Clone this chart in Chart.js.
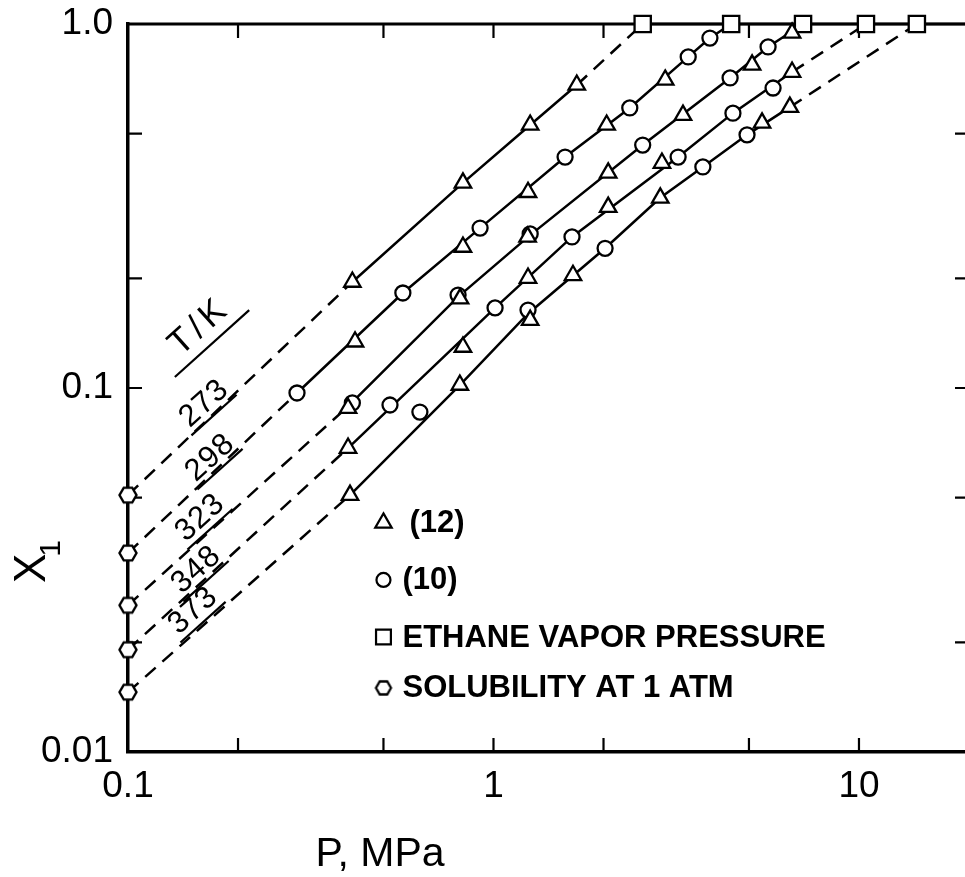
<!DOCTYPE html>
<html>
<head>
<meta charset="utf-8">
<script src="https://cdn.jsdelivr.net/npm/chart.js@4/dist/chart.umd.min.js"></script>
<style>
  html, body { margin: 0; padding: 0; background: #fff; overflow: hidden; width: 965px; height: 877px; }
  canvas { display: block; }
</style>
</head>
<body>
<canvas id="c" width="975" height="877" style="width:975px;height:877px"></canvas>
<script>
// ------------------------------------------------------------------
// DATA
// ------------------------------------------------------------------
const temperatures = [273, 298, 323, 348, 373];

// Solubility at 1 atm (hexagons), plotted at P = 0.1 MPa
const solubilityP = [0.1, 0.1, 0.1, 0.1, 0.1];
const solubilityX = [0.0508, 0.0352, 0.0253, 0.0191, 0.0146];

// Ethane vapor pressure (squares), x1 = 1
const vaporP = [2.56, 4.47, 7.03, 10.45, 14.4];
const vaporX = [1.0, 1.0, 1.0, 1.0, 1.0];

// Reference (12) - triangles
const tri273P = [0.411, 0.825, 1.26, 1.69];
const tri273X = [0.1955, 0.366, 0.528, 0.680];
const tri298P = [0.418, 0.825, 1.243, 2.04, 2.95];
const tri298X = [0.134, 0.244, 0.345, 0.528, 0.702];
const tri323P = [0.40, 0.81, 1.24, 2.06, 3.30, 5.10, 6.56];
const tri323X = [0.088, 0.176, 0.260, 0.390, 0.562, 0.772, 0.945];
const tri348P = [0.400, 0.825, 1.243, 2.06, 2.89, 6.56];
const tri348X = [0.0684, 0.1296, 0.2005, 0.314, 0.415, 0.738];
const tri373P = [0.405, 0.809, 1.26, 1.65, 2.86, 5.43, 6.47];
const tri373X = [0.0508, 0.1019, 0.1537, 0.204, 0.333, 0.535, 0.591];

// Reference (10) - circles
const cir298P = [0.290, 0.565, 0.919, 1.57, 2.36, 3.41, 3.91];
const cir298X = [0.0969, 0.1824, 0.275, 0.431, 0.588, 0.812, 0.915];
const cir323P = [0.411, 0.80, 1.26, 2.56, 4.44, 5.64];
const cir323X = [0.0910, 0.180, 0.265, 0.465, 0.711, 0.865];
const cir348P = [0.521, 1.01, 1.64, 3.20, 4.52, 5.82];
const cir348X = [0.0898, 0.166, 0.260, 0.431, 0.569, 0.667];
const cir373P = [0.629, 1.243, 2.02, 3.74, 4.94];
const cir373X = [0.0859, 0.1637, 0.242, 0.405, 0.496];

// Curves drawn through the data (from 1-atm solubility up to x1 = 1)
const curve273P = [0.1, 0.411, 0.825, 1.26, 1.69, 2.56];
const curve273X = [0.0508, 0.1955, 0.366, 0.528, 0.680, 1.0];
const curve298P = [0.1, 0.29, 0.565, 0.919, 1.57, 2.36, 3.41, 3.91, 4.47];
const curve298X = [0.0352, 0.0969, 0.1824, 0.275, 0.431, 0.588, 0.812, 0.915, 1.0];
const curve323P = [0.1, 0.40, 0.80, 1.26, 2.56, 4.44, 5.64, 7.03];
const curve323X = [0.0253, 0.089, 0.178, 0.263, 0.465, 0.711, 0.865, 1.0];
const curve348P = [0.1, 0.40, 1.01, 1.64, 3.20, 4.52, 6.56, 10.45];
const curve348X = [0.0191, 0.0684, 0.166, 0.260, 0.431, 0.569, 0.738, 1.0];
const curve373P = [0.1, 0.405, 0.809, 1.243, 2.02, 2.86, 3.74, 4.94, 6.47, 14.4];
const curve373X = [0.0146, 0.0508, 0.1019, 0.160, 0.242, 0.333, 0.405, 0.496, 0.591, 1.0];

// Axes
const P_MIN = 0.1, P_MAX = 20;
const X_MIN = 0.01, X_MAX = 1;
const xLabelValues = [0.1, 1, 10];
const xLabelTexts = ['0.1', '1', '10'];
const yLabelValues = [0.01, 0.1, 1];
const yLabelTexts = ['0.01', '0.1', '1.0'];
const xMinorTicks = [0.2, 0.5, 1, 2, 5, 10];
const yMinorTicks = [0.02, 0.05, 0.1, 0.2, 0.5];

const legendTexts = ['(12)', '(10)', 'ETHANE VAPOR PRESSURE', 'SOLUBILITY AT 1 ATM'];

// ------------------------------------------------------------------
// STYLE / LAYOUT
// ------------------------------------------------------------------
const FONT = '"Liberation Sans", Arial, sans-serif';
const LINE_W = 2.5;
const DASH = [14, 9];
const dashLastSegment = {273: true, 298: false, 323: false, 348: true, 373: true};

const zip = (P, X) => P.map((p, i) => ({x: p, y: X[i]}));

function makeHexagon(r, lw) {
  const s = Math.ceil(2 * r + lw + 2);
  const c = document.createElement('canvas');
  c.width = s; c.height = s;
  const g = c.getContext('2d');
  g.beginPath();
  for (let i = 0; i < 6; i++) {
    const a = Math.PI / 3 * i;
    const px = s / 2 + r * Math.cos(a), py = s / 2 + r * Math.sin(a);
    if (i) g.lineTo(px, py); else g.moveTo(px, py);
  }
  g.closePath();
  g.fillStyle = '#fff'; g.fill();
  g.lineWidth = lw; g.strokeStyle = '#000'; g.stroke();
  return c;
}
const hexImg = makeHexagon(8.5, 2.4);
const hexImgSmall = makeHexagon(7.5, 2.3);

const curves = {
  273: [curve273P, curve273X], 298: [curve298P, curve298X], 323: [curve323P, curve323X],
  348: [curve348P, curve348X], 373: [curve373P, curve373X]
};
const triangles = {
  273: [tri273P, tri273X], 298: [tri298P, tri298X], 323: [tri323P, tri323X],
  348: [tri348P, tri348X], 373: [tri373P, tri373X]
};
const circles = {
  298: [cir298P, cir298X], 323: [cir323P, cir323X], 348: [cir348P, cir348X], 373: [cir373P, cir373X]
};

const datasets = [];
const markerBase = {
  showLine: false, borderColor: '#000', backgroundColor: '#fff',
  pointBorderWidth: 2.3, clip: false, order: 0
};
temperatures.forEach(T => {
  if (triangles[T]) datasets.push(Object.assign({}, markerBase, {
    label: 'tri ' + T, data: zip(triangles[T][0], triangles[T][1]),
    pointStyle: 'triangle', pointRadius: 9.5
  }));
  if (circles[T]) datasets.push(Object.assign({}, markerBase, {
    label: 'cir ' + T, data: zip(circles[T][0], circles[T][1]),
    pointStyle: 'circle', pointRadius: 7.5
  }));
});
datasets.push(Object.assign({}, markerBase, {
  label: 'vapor', data: zip(vaporP, vaporX), pointStyle: 'rect', pointRadius: 11.5
}));
datasets.push(Object.assign({}, markerBase, {
  label: 'solubility', data: zip(solubilityP, solubilityX), pointStyle: hexImg, pointRadius: 8
}));
temperatures.forEach(T => {
  const data = zip(curves[T][0], curves[T][1]);
  const n = data.length;
  datasets.push({
    label: 'curve ' + T, data, showLine: true, pointRadius: 0,
    borderColor: '#000', borderWidth: LINE_W, tension: 0, clip: false, order: 1,
    segment: {
      borderDash: ctx => (ctx.p0DataIndex === 0 || (dashLastSegment[T] && ctx.p1DataIndex === n - 1)) ? DASH : undefined
    }
  });
});
// pure-liquid line x1 = 1 beyond the first vapor pressure
datasets.push({
  label: 'x1=1', data: [{x: vaporP[0], y: 1}, {x: P_MAX, y: 1}], showLine: true,
  pointRadius: 0, borderColor: '#000', borderWidth: 2.5, clip: false, order: 2
});

function shapePath(ctx, shape, x, y, r) {
  ctx.beginPath();
  if (shape === 'triangle') {
    let rad = 0;
    ctx.moveTo(x + Math.sin(rad) * r, y - Math.cos(rad) * r);
    rad += 2 * Math.PI / 3;
    ctx.lineTo(x + Math.sin(rad) * r, y - Math.cos(rad) * r);
    rad += 2 * Math.PI / 3;
    ctx.lineTo(x + Math.sin(rad) * r, y - Math.cos(rad) * r);
    ctx.closePath();
  } else if (shape === 'circle') {
    ctx.arc(x, y, r, 0, Math.PI * 2);
  } else if (shape === 'rect') {
    const s = Math.SQRT1_2 * r;
    ctx.rect(x - s, y - s, 2 * s, 2 * s);
  }
}

const decor = {
  id: 'decor',
  beforeDatasetsDraw(chart) {
    const {ctx, chartArea: a, scales: {x, y}} = chart;
    const TL = 14;
    ctx.save();
    ctx.strokeStyle = '#000';
    ctx.lineWidth = 3;
    ctx.beginPath(); ctx.moveTo(a.left, a.top); ctx.lineTo(a.right, a.top); ctx.stroke();
    ctx.lineWidth = 2.2;
    ctx.beginPath();
    xMinorTicks.forEach(v => {
      const px = x.getPixelForValue(v);
      ctx.moveTo(px, a.bottom); ctx.lineTo(px, a.bottom - TL);
      ctx.moveTo(px, a.top); ctx.lineTo(px, a.top + TL);
    });
    yMinorTicks.forEach(v => {
      const py = y.getPixelForValue(v);
      ctx.moveTo(a.left, py); ctx.lineTo(a.left + TL, py);
      ctx.moveTo(a.right, py); ctx.lineTo(a.right - TL, py);
    });
    ctx.stroke();
    ctx.restore();
  },
  afterDraw(chart, args, opts) {
    const {ctx, chartArea: a, scales: {x, y}} = chart;
    ctx.save();
    ctx.fillStyle = '#000'; ctx.strokeStyle = '#000';

    // Temperature labels (rotated, underlined)
    const ang = opts.labelAngle * Math.PI / 180;
    temperatures.forEach((T, i) => {
      const [pv, xv] = opts.tempAnchors[i];
      const px = x.getPixelForValue(pv), py = y.getPixelForValue(xv);
      ctx.save();
      ctx.translate(px, py); ctx.rotate(ang);
      ctx.font = '31px ' + FONT;
      ctx.letterSpacing = '1px';
      ctx.textAlign = 'center'; ctx.textBaseline = 'middle';
      const w = ctx.measureText(String(T)).width;
      ctx.fillText(String(T), 0.5, 0);
      ctx.lineWidth = 2.2;
      ctx.beginPath(); ctx.moveTo(-w / 2 - 3, 15); ctx.lineTo(w / 2 + 3, 15); ctx.stroke();
      ctx.restore();
    });

    // T/K label
    {
      const [pv, xv] = opts.tkAnchor;
      const px = x.getPixelForValue(pv), py = y.getPixelForValue(xv);
      ctx.save();
      ctx.translate(px, py); ctx.rotate(ang);
      ctx.font = '35px ' + FONT;
      ctx.letterSpacing = '5px';
      ctx.textAlign = 'center'; ctx.textBaseline = 'middle';
      ctx.fillText('T/K', 2.5, 0);
      ctx.letterSpacing = '0px';
      ctx.lineWidth = 2.2;
      ctx.beginPath(); ctx.moveTo(-50, 21); ctx.lineTo(50, 21); ctx.stroke();
      ctx.restore();
    }

    // Legend
    const lx = x.getPixelForValue(opts.legendP);
    const shapes = ['triangle', 'circle', 'rect', 'hex'];
    const radii = [9.5, 7, 10.5, 7.5];
    ctx.font = 'bold 31px ' + FONT;
    ctx.textAlign = 'left'; ctx.textBaseline = 'middle';
    legendTexts.forEach((t, i) => {
      const ly = y.getPixelForValue(opts.legendRowsX[i]);
      if (shapes[i] === 'hex') {
        ctx.drawImage(hexImgSmall, lx - hexImgSmall.width / 2, ly - hexImgSmall.height / 2);
      } else {
        shapePath(ctx, shapes[i], lx, ly, radii[i]);
        ctx.fillStyle = '#fff'; ctx.fill();
        ctx.lineWidth = 2.2; ctx.stroke();
        ctx.fillStyle = '#000';
      }
      ctx.fillText(t, lx + opts.legendTextOffsets[i], ly + 1);
    });

    // Axis titles
    ctx.font = '41px ' + FONT;
    ctx.textAlign = 'center'; ctx.textBaseline = 'alphabetic';
    ctx.fillText('P, MPa', a.left + 252, a.bottom + 114);

    ctx.save();
    ctx.translate(a.left - 83, a.top + 559);
    ctx.rotate(-Math.PI / 2);
    ctx.font = '44px ' + FONT;
    ctx.textAlign = 'left'; ctx.textBaseline = 'alphabetic';
    ctx.fillText('X', 0, 0);
    const wx = ctx.measureText('X').width;
    ctx.font = '30px ' + FONT;
    ctx.fillText('1', wx - 3, 15);
    ctx.restore();

    ctx.restore();
  }
};

Chart.defaults.font.family = FONT;
Chart.defaults.color = '#000';

const zeroPad = s => { s.paddingLeft = 0; s.paddingRight = 0; s.paddingTop = 0; s.paddingBottom = 0; };

new Chart(document.getElementById('c'), {
  type: 'scatter',
  data: { datasets },
  plugins: [decor],
  options: {
    responsive: false,
    animation: false,
    devicePixelRatio: 1,
    layout: { autoPadding: false, padding: { left: 0, top: 24, right: 6, bottom: 0 } },
    events: [],
    plugins: {
      legend: { display: false },
      tooltip: { enabled: false },
      decor: {
        labelAngle: -42,
        tempAnchors: [[0.1614, 0.0904], [0.1676, 0.0642], [0.1574, 0.0439], [0.1535, 0.0316], [0.1506, 0.0244]],
        tkAnchor: [0.1554, 0.1462],
        legendP: 0.5,
        legendRowsX: [0.0426, 0.0297, 0.0207, 0.0150],
        legendTextOffsets: [26, 19, 19, 19]
      }
    },
    scales: {
      x: {
        type: 'logarithmic', position: 'bottom', min: P_MIN, max: P_MAX,
        grid: { display: false, drawTicks: false },
        border: { display: true, width: 3.5, color: '#000' },
        ticks: {
          autoSkip: false, maxRotation: 0, padding: 13,
          font: { size: 37, family: FONT }, color: '#000',
          callback: v => { const i = xLabelValues.indexOf(v); return i >= 0 ? xLabelTexts[i] : ''; }
        },
        afterBuildTicks: s => { s.ticks = xLabelValues.map(v => ({value: v})); },
        afterFit: s => { s.height = 125; zeroPad(s); }
      },
      y: {
        type: 'logarithmic', position: 'left', min: X_MIN, max: X_MAX,
        grid: { display: false, drawTicks: false },
        border: { display: true, width: 3.5, color: '#000' },
        ticks: {
          autoSkip: false, padding: 15,
          font: { size: 37, family: FONT }, color: '#000',
          callback: v => { const i = yLabelValues.indexOf(v); return i >= 0 ? yLabelTexts[i] : ''; }
        },
        afterBuildTicks: s => { s.ticks = yLabelValues.map(v => ({value: v})); },
        afterFit: s => { s.width = 128; zeroPad(s); }
      }
    }
  }
});
</script>
</body>
</html>
